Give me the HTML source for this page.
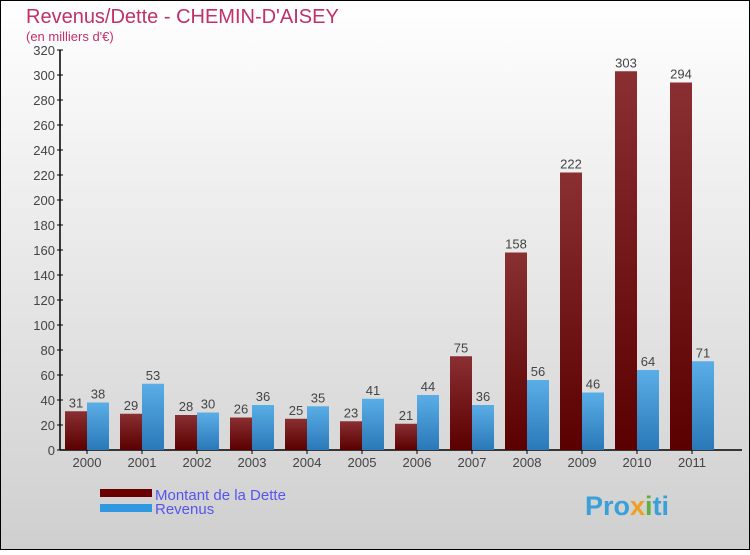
<!DOCTYPE html>
<html><head><meta charset="utf-8"><style>
body{margin:0;width:750px;height:550px;overflow:hidden;font-family:"Liberation Sans",sans-serif}
</style></head><body>
<svg width="750" height="550" xmlns="http://www.w3.org/2000/svg">
<defs>
<linearGradient id="bg" x1="0" y1="0" x2="0" y2="1"><stop offset="0" stop-color="#ffffff"/><stop offset="1" stop-color="#cfcfcf"/></linearGradient>
<linearGradient id="gd" x1="0" y1="0" x2="0" y2="1"><stop offset="0" stop-color="#8a2f32"/><stop offset="1" stop-color="#5a0000"/></linearGradient>
<linearGradient id="gr" x1="0" y1="0" x2="0" y2="1"><stop offset="0" stop-color="#5aaee6"/><stop offset="1" stop-color="#2a78b8"/></linearGradient>
</defs>
<rect x="0.5" y="0.5" width="749" height="549" fill="url(#bg)" stroke="#000"/>
<text x="26" y="23" font-size="20" fill="#c0306a">Revenus/Dette - CHEMIN-D'AISEY</text>
<text x="26" y="41" font-size="13" fill="#c0306a">(en milliers d'€)</text>
<g id="axes"></g>
<g id="bars"></g>
<rect x="100" y="489" width="52" height="8" fill="#6a0000"/>
<rect x="100" y="504" width="52" height="8" fill="#3098e0"/>
<text x="155" y="500" font-size="15" fill="#5555ee">Montant de la Dette</text>
<text x="155" y="514" font-size="15" fill="#5555ee">Revenus</text>
<text x="585" y="515" font-size="27" font-weight="bold" fill="#3aa0d8">Pro<tspan fill="#f0a020">x</tspan><tspan fill="#60b040">i</tspan>ti</text>
</svg>
<script>
const years=["2000","2001","2002","2003","2004","2005","2006","2007","2008","2009","2010","2011"];
const dette=[31,29,28,26,25,23,21,75,158,222,303,294];
const revenus=[38,53,30,36,35,41,44,36,56,46,64,71];
const ticks=[0,20,40,60,80,100,120,140,160,180,200,220,240,260,280,300,320];
const NS="http://www.w3.org/2000/svg";
const y0=450,yTop=50,vmax=320,x0=60,step=55,bw=22;
const y=v=>y0-(v/vmax)*(y0-yTop);
const gx=i=>x0+5+i*step;
const axes=document.getElementById('axes'),bars=document.getElementById('bars');
function mk(t,a,p){const e=document.createElementNS(NS,t);for(const k in a)e.setAttribute(k,a[k]);p.appendChild(e);return e;}
const ya=mk('line',{x1:x0,y1:yTop,x2:x0,y2:y0,stroke:'#000','stroke-width':1.5},axes);


const xa=mk('line',{x1:x0,y1:y0,x2:742,y2:y0,stroke:'#000','stroke-width':1.5},axes);


ticks.forEach(t=>{
 mk('line',{x1:x0-3,y1:y(t),x2:x0+3,y2:y(t),stroke:'#000'},axes);
 const tx=mk('text',{x:x0-5,y:y(t)+5,'font-size':13,fill:'#444','text-anchor':'end'},axes);
 tx.textContent=t;
 
 
});
years.forEach((yr,i)=>{
 const x=gx(i);
 const b1=mk('rect',{x:x,y:y(dette[i]),width:bw,height:y0-y(dette[i]),fill:'url(#gd)'},bars);
 
 
 const b2=mk('rect',{x:x+bw,y:y(revenus[i]),width:bw,height:y0-y(revenus[i]),fill:'url(#gr)'},bars);
 
 
 const l1=mk('text',{x:x+bw/2,y:y(dette[i])-4,'font-size':13,fill:'#444','text-anchor':'middle'},bars);
 l1.textContent=dette[i];
 
 
 const l2=mk('text',{x:x+bw*1.5,y:y(revenus[i])-4,'font-size':13,fill:'#444','text-anchor':'middle'},bars);
 l2.textContent=revenus[i];
 
 
 mk('line',{x1:x+bw,y1:y0,x2:x+bw,y2:y0+4,stroke:'#000'},axes);
 const xl=mk('text',{x:x+bw,y:y0+17,'font-size':13,fill:'#444','text-anchor':'middle'},axes);
 xl.textContent=yr;
 
 
});
</script>
</body></html>
